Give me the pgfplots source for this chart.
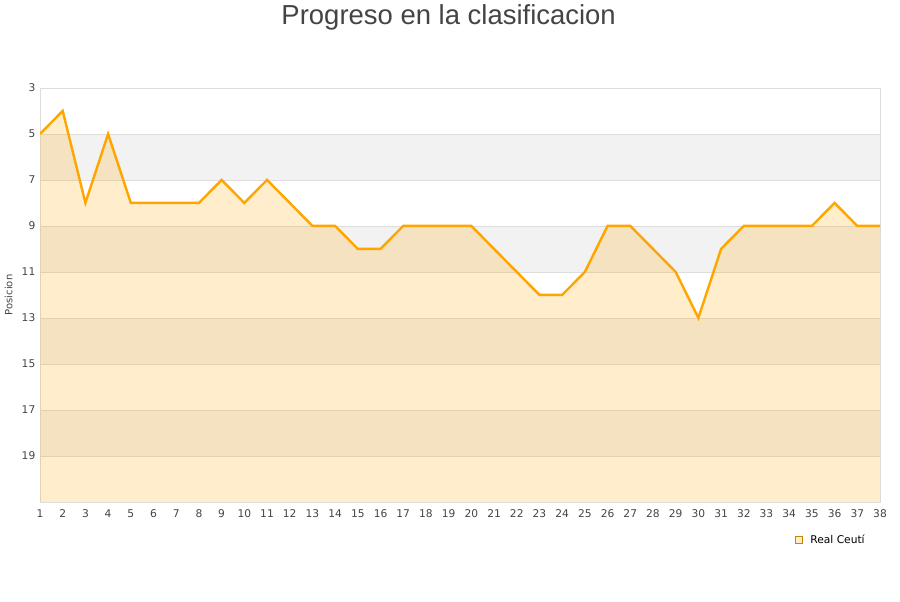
\documentclass[border=0pt]{standalone}
\usepackage{fontspec}
\setmainfont{DejaVu Sans}
\newfontfamily\titlefont{Liberation Sans}
\usepackage{pgfplots}
\pgfplotsset{compat=1.18}
\usepgfplotslibrary{fillbetween}

\definecolor{lineor}{HTML}{FFA500}
\definecolor{stripe}{HTML}{F2F2F2}
\definecolor{gridc}{HTML}{DDDDDD}
\definecolor{txt}{HTML}{444444}

\pgfplotstableread{
j pos
1 5
2 4
3 8
4 5
5 8
6 8
7 8
8 8
9 7
10 8
11 7
12 8
13 9
14 9
15 10
16 10
17 9
18 9
19 9
20 9
21 10
22 11
23 12
24 12
25 11
26 9
27 9
28 10
29 11
30 13
31 10
32 9
33 9
34 9
35 9
36 8
37 9
38 9
}\posdata

\begin{document}
\begin{tikzpicture}
\path (0pt,0pt) rectangle (675pt,450pt);
\node[font=\titlefont\fontsize{20.6}{24}\selectfont, text=txt] at (336.5pt,438.5pt) {Progreso en la clasificacion};
\begin{axis}[
  at={(30pt,75pt)}, anchor=south west,
  scale only axis, width=630pt, height=310.5pt,
  set layers,
  xmin=1, xmax=38, ymin=3, ymax=21,
  y dir=reverse,
  xtick={1,...,38},
  ytick={3,5,...,19},
  ymajorgrids, major grid style={gridc, line width=0.6pt},
  axis line style={gridc, line width=0.6pt},
  tick style={draw=none},
  ticklabel style={font=\fontsize{8}{9}\selectfont, text=txt},
  /pgf/number format/assume math mode=true,
  xticklabel style={yshift=-2pt},
  ylabel={Posicion},
  ylabel style={font=\fontsize{7.5}{9}\selectfont, text=txt, yshift=0pt},
  legend style={at={(0.99,-0.092)}, anchor=east, draw=none, fill=none,
    font=\fontsize{8}{9}\selectfont, legend cell align=left},
]
\begin{pgfonlayer}{axis background}
\fill[stripe] (axis cs:1,5) rectangle (axis cs:38,7);
\fill[stripe] (axis cs:1,9) rectangle (axis cs:38,11);
\fill[stripe] (axis cs:1,13) rectangle (axis cs:38,15);
\fill[stripe] (axis cs:1,17) rectangle (axis cs:38,19);
\end{pgfonlayer}
\addplot[name path=A, lineor, line width=1.8pt, forget plot] table[x=j, y=pos] {\posdata};
\path[name path=B] (axis cs:1,21) -- (axis cs:38,21);
\addplot[fill=lineor, fill opacity=0.2, draw=none, forget plot] fill between[of=A and B];
\addlegendimage{legend image code/.code={\draw[draw=lineor!80!black, fill=lineor!20, line width=0.4pt] (0pt,-2.6pt) rectangle (5.4pt,2.6pt); \path (9pt,0pt);}}
\addlegendentry{Real Ceutí}
\end{axis}
\end{tikzpicture}
\end{document}
